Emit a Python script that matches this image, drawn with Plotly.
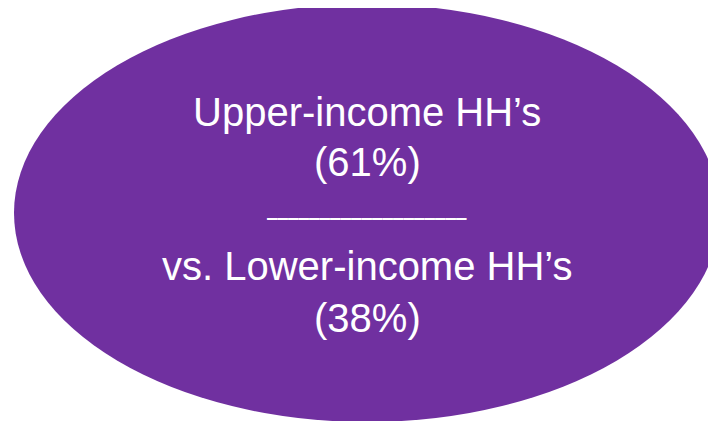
import plotly.graph_objects as go

# Content
lines = ["Upper-income HH’s", "(61%)", "vs. Lower-income HH’s", "(38%)"]
line_y = [112, 162, 266, 318]
divider = "_" * 19
divider_y = 208

fig = go.Figure()
fig.add_shape(type="circle", xref="x", yref="y", x0=14, x1=720, y0=4, y1=422,
              fillcolor="#7030A0", line=dict(width=0), layer="below")

for t, y in zip(lines, line_y):
    fig.add_annotation(x=367, y=y, xref="x", yref="y", text=t, showarrow=False,
                       font=dict(family="Liberation Sans, Arial", size=40, color="white"),
                       xanchor="center", yanchor="middle")
fig.add_annotation(x=367, y=divider_y, xref="x", yref="y", text="<b>" + divider + "</b>",
                   showarrow=False,
                   font=dict(family="DejaVu Sans", size=21, color="white"),
                   xanchor="center", yanchor="middle")

fig.update_layout(width=716, height=421, margin=dict(l=0, r=0, t=0, b=0),
                  paper_bgcolor="white", plot_bgcolor="white", showlegend=False)
# page body has an 8px offset; map data units to screen pixels
fig.update_xaxes(range=[8, 724], visible=False, fixedrange=True)
fig.update_yaxes(range=[429, 8], visible=False, fixedrange=True)
fig.write_html("out.html")
